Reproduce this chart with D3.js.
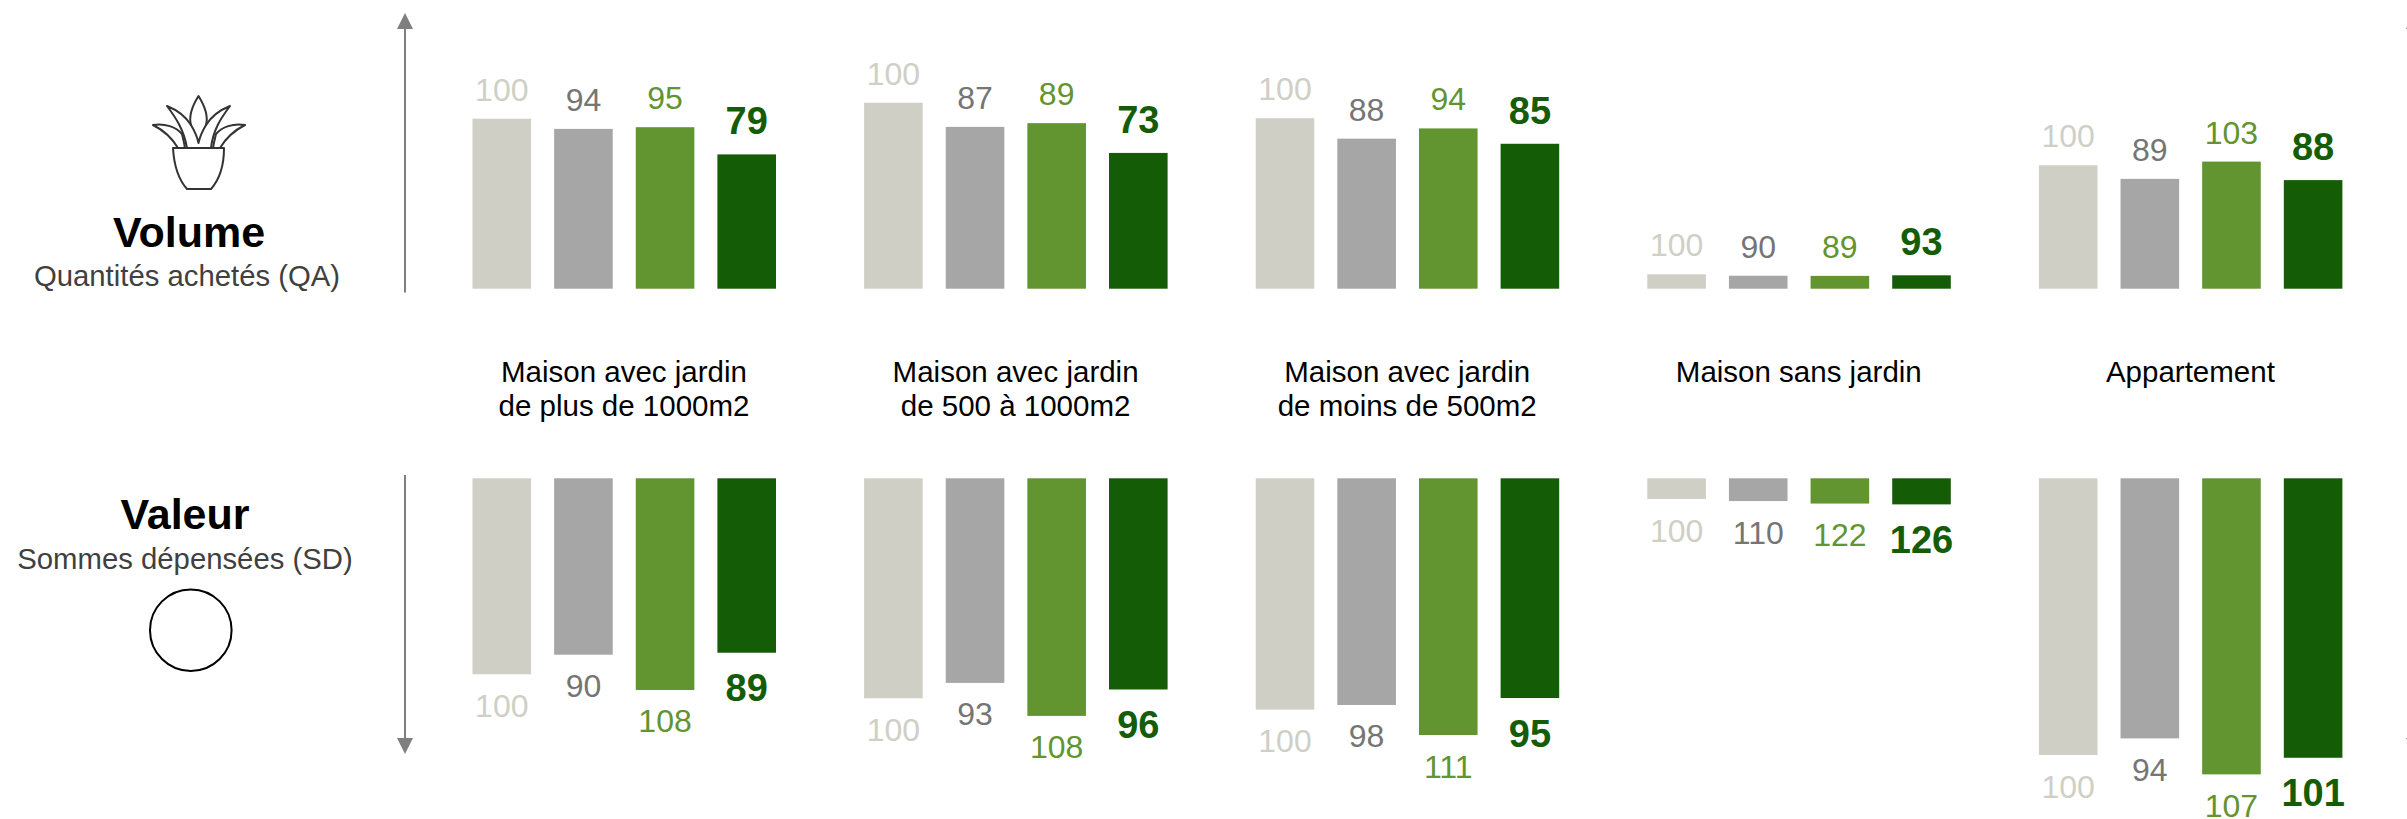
<!DOCTYPE html>
<html><head><meta charset="utf-8">
<script src="https://d3js.org/d3.v7.min.js"></script>
<style>html,body{margin:0;background:#fff}svg{display:block}text{font-family:"Liberation Sans",Arial,sans-serif}</style>
</head><body><svg id="c" width="2407" height="819"></svg>
<script>
const categories=[["Maison avec jardin","de plus de 1000m2"],["Maison avec jardin","de 500 à 1000m2"],["Maison avec jardin","de moins de 500m2"],["Maison sans jardin"],["Appartement"]];
const seriesNames=["s1","s2","s3","s4"];
const seriesColors=["#cfcfc6","#a6a6a6","#62942f","#155c07"];
const labelColors=["#cfcfc6","#757575","#62942f","#155c07"];
const volumeBase=[170,186,170.5,14.4,123.4];
const valueBase=[196,220,231.3,20.7,276.7];
const volumeS1=[100,100,100,100,100],volumeS2=[94,87,88,90,89],volumeS3=[95,89,94,89,103],volumeS4=[79,73,85,93,88];
const valueS1=[100,100,100,100,100],valueS2=[90,93,98,110,94],valueS3=[108,108,111,122,107],valueS4=[89,96,95,126,101];
const volumes=[volumeS1,volumeS2,volumeS3,volumeS4],values=[valueS1,valueS2,valueS3,valueS4];
const svg=d3.select("#c");
const x0=d3.scaleBand().domain(d3.range(5)).range([472.5,2430.5]);
const x1=d3.scaleBand().domain(seriesNames).range([0,303.5]).paddingInner(23/81.5);
const size=d3.scaleLinear().domain([0,100]).range([0,1]);
const baseT=288.7,baseB=478.3;
categories.forEach((c,g)=>{
 const G=svg.append("g").attr("transform",`translate(${x0(g)},0)`);
 seriesNames.forEach((s,i)=>{
  const X=x1(s),W=x1.bandwidth(),cx=X+W/2;
  const hv=volumeBase[g]*size(volumes[i][g]), hb=valueBase[g]*size(values[i][g]);
  G.append("rect").attr("x",X).attr("width",W).attr("y",baseT-hv).attr("height",hv).attr("fill",seriesColors[i]);
  G.append("rect").attr("x",X).attr("width",W).attr("y",baseB).attr("height",hb).attr("fill",seriesColors[i]);
  const bold=i===3,fs=bold?38:32;
  G.append("text").attr("x",cx).attr("y",baseT-hv-(bold?20:18)).attr("text-anchor","middle").attr("font-size",fs).attr("font-weight",bold?"bold":"normal").attr("fill",labelColors[i]).text(volumes[i][g]);
  G.append("text").attr("x",cx).attr("y",baseB+hb+(bold?48.5:42.5)).attr("text-anchor","middle").attr("font-size",fs).attr("font-weight",bold?"bold":"normal").attr("fill",labelColors[i]).text(values[i][g]);
 });
 c.forEach((l,k)=>G.append("text").attr("x",151.5).attr("y",382+k*34).attr("text-anchor","middle").attr("font-size",29.5).attr("fill","#000").text(l));
});
function arrow(x,y1,y2){const d=y2>y1?1:-1;
 svg.append("line").attr("x1",x).attr("x2",x).attr("y1",y1).attr("y2",y2-d*14).attr("stroke","#7f7f7f").attr("stroke-width",2);
 svg.append("path").attr("d",`M${x-8},${y2-d*16}L${x+8},${y2-d*16}L${x},${y2}Z`).attr("fill","#7f7f7f");}
[405,2414].forEach(x=>{arrow(x,292.5,13);arrow(x,475,754);});
svg.append("text").attr("x",189).attr("y",247).attr("text-anchor","middle").attr("font-size",43).attr("font-weight","bold").text("Volume");
svg.append("text").attr("x",187).attr("y",286).attr("text-anchor","middle").attr("font-size",29.3).attr("fill","#404040").text("Quantités achetés (QA)");
svg.append("text").attr("x",185).attr("y",529).attr("text-anchor","middle").attr("font-size",43).attr("font-weight","bold").text("Valeur");
svg.append("text").attr("x",185).attr("y",568.5).attr("text-anchor","middle").attr("font-size",29.3).attr("fill","#404040").text("Sommes dépensées (SD)");
svg.append("circle").attr("cx",190.8).attr("cy",630.2).attr("r",40.8).attr("fill","#fff").attr("stroke","#000").attr("stroke-width",2);
const P=svg.append("g").attr("transform","translate(130,80)").attr("fill","none").attr("stroke","#333").attr("stroke-width",2).attr("stroke-linejoin","round").attr("stroke-linecap","round");
["M43,68 L94,68 C94,86 89,100 81,109 L57,109 C49,100 44,86 43,68Z",
 "M68.5,16 C61,28 59,38 61,45 C64,50 67,56 68.5,63 C70,56 73,50 76,45 C78,38 76,28 68.5,16Z",
 "M37,26 C47,30 56,37 61,45 M37,26 C46,38 54,50 57,68",
 "M100,26 C90,30 81,37 76,45 M100,26 C91,38 83,50 81,68",
 "M23,45 C35,43 46,47 52,54 C53,58 54,62 55,68 M23,45 C33,50 42,58 48,68",
 "M115,45 C103,43 92,47 86,54 C85,58 84,62 83,68 M115,45 C105,50 96,58 90,68"
].forEach(d=>P.append("path").attr("d",d));
</script></body></html>
